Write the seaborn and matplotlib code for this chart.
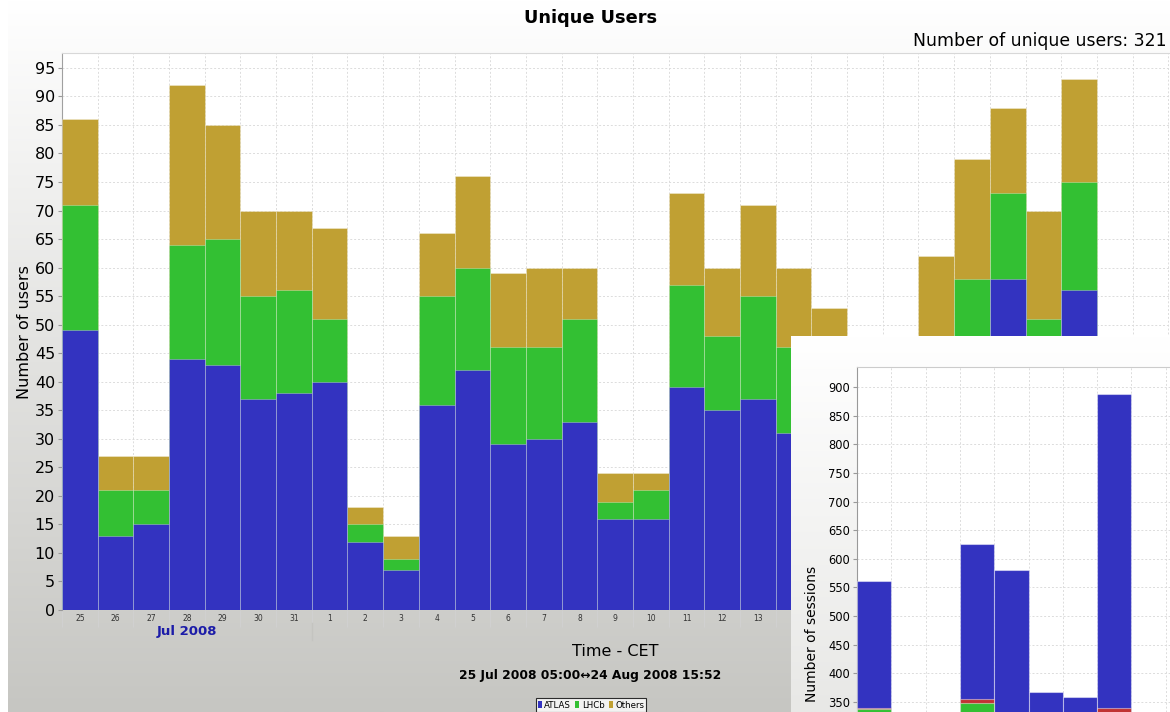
import numpy as np
import pandas as pd
import matplotlib
matplotlib.use("Agg")
import matplotlib.pyplot as plt
import seaborn as sns
from matplotlib.patches import Patch
from matplotlib.transforms import blended_transform_factory

# ---------------- data ----------------
days = ["25", "26", "27", "28", "29", "30", "31",
        "1", "2", "3", "4", "5", "6", "7", "8", "9", "10", "11", "12",
        "13", "14", "15", "16", "17", "18", "19", "20", "21", "22", "23", "24"]
atlas = [49, 13, 15, 44, 43, 37, 38, 40, 12, 7, 36, 42, 29, 30, 33, 16,
         16, 39, 35, 37, 31, 28, 12, 10, 28, 40, 58, 36, 56, 14, 12]
lhcb = [22, 8, 6, 20, 22, 18, 18, 11, 3, 2, 19, 18, 17, 16, 18, 3,
        5, 18, 13, 18, 15, 13, 4, 3, 16, 18, 15, 15, 19, 3, 4]
others = [15, 6, 6, 28, 20, 15, 14, 16, 3, 4, 11, 16, 13, 14, 9, 5,
          3, 16, 12, 16, 14, 12, 5, 6, 18, 21, 15, 19, 18, 5, 4]
yticks_main = list(range(0, 100, 5))

# inset (Number of sessions), partly visible
sess_slots = ["a", "b", "c", "d", "e", "f", "g", "h"]
sess_others = [120, 0, 0, 130, 120, 80, 70, 140]
sess_lhcb = [218, 0, 0, 218, 200, 200, 200, 190]
sess_red = [2, 0, 0, 7, 4, 3, 3, 9]
sess_atlas = [222, 0, 0, 271, 256, 84, 85, 549]
yticks_inset = list(range(350, 901, 50))

C_ATLAS = "#3333c0"
C_LHCB = "#33c033"
C_OTH = "#c0a033"
C_RED = "#c03333"

plt.rcParams["font.family"] = ["DejaVu Sans"]

W, H = 1170, 712
fig = plt.figure(figsize=(W / 100, H / 100), dpi=100)
fig.patch.set_facecolor("white")

def fx(px):
    return px / W

def fy(py):
    return 1 - py / H

# ---------------- background gradient ----------------
bg = fig.add_axes([fx(8), 0, 1 - fx(8), 1], zorder=-10)
grad = np.linspace(1.0, 0.0, 256).reshape(-1, 1)
top_c = np.array([1.0, 1.0, 1.0])
bot_c = np.array([198, 198, 194]) / 255
img = top_c * grad[..., None] + bot_c * (1 - grad[..., None])
bg.imshow(img, aspect="auto", extent=[0, 1, 0, 1], origin="upper")
bg.set_axis_off()

# ---------------- main axes ----------------
MAIN_L, MAIN_R = 62, 1204
PANEL_L = 791
ax = fig.add_axes([fx(MAIN_L), fy(610), fx(MAIN_R - MAIN_L), fy(53) - fy(610)], zorder=1)
ax.set_facecolor("white")

df = pd.DataFrame({"day": days, "atlas": atlas, "lhcb": lhcb, "others": others})
df["c_lhcb"] = df["atlas"] + df["lhcb"]
df["c_oth"] = df["c_lhcb"] + df["others"]

bar_kw = dict(width=1.0, saturation=1, errorbar=None, linewidth=0.6,
              edgecolor=(1, 1, 1, 0.35), order=days, ax=ax, zorder=3)
sns.barplot(data=df, x="day", y="c_oth", color=C_OTH, **bar_kw)
sns.barplot(data=df, x="day", y="c_lhcb", color=C_LHCB, **bar_kw)
sns.barplot(data=df, x="day", y="atlas", color=C_ATLAS, **bar_kw)

n = len(days)
ax.set_xlim(-0.5, 31.5)
ax.set_ylim(0, 97.6)
ax.set_yticks(yticks_main)
ax.set_yticklabels([str(v) for v in yticks_main], fontsize=11.5)
ax.tick_params(axis="y", length=3, color="#999999", pad=2)
ax.set_xticks(range(n))
# day labels lying under the overlapping sessions panel are covered there
slot_px = (MAIN_R - MAIN_L) / 32.0
shown = [d if MAIN_L + (i + 0.5) * slot_px < PANEL_L else "" for i, d in enumerate(days)]
ax.set_xticklabels(shown, fontsize=5.5, color="#333333")
ax.tick_params(axis="x", which="major", length=0, pad=3)
ax.set_xticks([i - 0.5 for i in range(n + 1)], minor=True)
ax.tick_params(axis="x", which="minor", length=12, color="#d0d0d0", width=0.8)
ax.set_xlabel("")
ax.set_ylabel("")
ax.grid(True, which="major", axis="y", color="#dcdcdc", linestyle=(0, (2, 2)), linewidth=0.7)
ax.grid(True, which="minor", axis="x", color="#dcdcdc", linestyle=(0, (2, 2)), linewidth=0.7)
ax.set_axisbelow(True)
for s in ["right", "bottom"]:
    ax.spines[s].set_visible(False)
ax.spines["left"].set_color("#a0a0a0")
ax.spines["top"].set_color("#d8d8d8")

# month label and separator
tr = blended_transform_factory(ax.transData, fig.transFigure)
ax.text(3, fy(632), "Jul 2008", transform=tr, ha="center", va="center",
        fontsize=9.5, fontweight="bold", color="#1c1ca8")
ax.plot([6.5, 6.5], [fy(623), fy(640)], transform=tr, color="#c4c4c0",
        linewidth=1, clip_on=False)

# texts
fig.text(fx(591), fy(18), "Unique Users", ha="center", va="center",
         fontsize=12.8, fontweight="bold")
fig.text(fx(1167), fy(41), "Number of unique users: 321", ha="right", va="center",
         fontsize=12.4)
fig.text(fx(25), fy(332), "Number of users", ha="center", va="center",
         rotation=90, fontsize=11.5)
fig.text(fx(615), fy(651), "Time - CET", ha="center", va="center", fontsize=11.5)
fig.text(fx(590), fy(675), "25 Jul 2008 05:00\u219424 Aug 2008 15:52",
         ha="center", va="center", fontsize=8.8, fontweight="bold")

handles = [Patch(facecolor=C_ATLAS, edgecolor="none", label="ATLAS"),
           Patch(facecolor=C_LHCB, edgecolor="none", label="LHCb"),
           Patch(facecolor=C_OTH, edgecolor="none", label="Others")]
leg = fig.legend(handles=handles, loc="center", bbox_to_anchor=(fx(591), fy(705)),
                 ncol=3, fontsize=6.2, frameon=True, fancybox=False,
                 handlelength=0.45, handleheight=1.0, handletextpad=0.3,
                 columnspacing=0.5, borderpad=0.25, borderaxespad=0)
leg.get_frame().set_edgecolor("black")
leg.get_frame().set_linewidth(0.8)

# ---------------- inset panel ----------------
panel = fig.add_axes([fx(PANEL_L), 0, 1 - fx(PANEL_L), fy(336)], zorder=5)
pgrad = np.linspace(1.0, 0.0, 256).reshape(-1, 1)
pimg = np.array([1.0, 1.0, 1.0]) * pgrad[..., None] + \
    (np.array([232, 232, 230]) / 255) * (1 - pgrad[..., None])
panel.imshow(pimg, aspect="auto", extent=[0, 1, 0, 1], origin="upper")
panel.set_axis_off()

ins = fig.add_axes([fx(857), 0, fx(1200 - 857), fy(367)], zorder=6)
ins.set_facecolor("white")
sdf = pd.DataFrame({"slot": sess_slots, "oth": sess_others, "lhcb": sess_lhcb,
                    "red": sess_red, "atlas": sess_atlas})
sdf["c1"] = sdf["oth"]
sdf["c2"] = sdf["c1"] + sdf["lhcb"]
sdf["c3"] = sdf["c2"] + sdf["red"]
sdf["c4"] = sdf["c3"] + sdf["atlas"]
ikw = dict(width=1.0, saturation=1, errorbar=None, linewidth=0.8,
           edgecolor=(1, 1, 1, 0.45), order=sess_slots, ax=ins, zorder=3)
sns.barplot(data=sdf, x="slot", y="c4", color=C_ATLAS, **ikw)
sns.barplot(data=sdf, x="slot", y="c3", color=C_RED, **ikw)
sns.barplot(data=sdf, x="slot", y="c2", color=C_LHCB, **ikw)
sns.barplot(data=sdf, x="slot", y="c1", color=C_OTH, **ikw)
ins.set_xlim(-0.5, (1200 - 857) / 34.6 - 0.5)
ins.set_ylim(332.5, 935)
ins.set_yticks(yticks_inset)
ins.set_yticklabels([str(v) for v in yticks_inset], fontsize=8.3)
ins.tick_params(axis="y", length=3, color="#999999", pad=2)
ins.set_xticks([])
ins.set_xticks([i + 0.5 for i in range(10)], minor=True)
ins.tick_params(axis="x", which="minor", length=0)
ins.set_xlabel("")
ins.set_ylabel("")
ins.grid(True, which="major", axis="y", color="#dcdcdc", linestyle=(0, (2, 2)), linewidth=0.7)
ins.grid(True, which="minor", axis="x", color="#dcdcdc", linestyle=(0, (2, 2)), linewidth=0.7)
ins.set_axisbelow(True)
ins.spines["right"].set_visible(False)
ins.spines["bottom"].set_visible(False)
ins.spines["left"].set_color("#999999")
ins.spines["top"].set_color("#cccccc")
fig.text(fx(812), fy(634), "Number of sessions", ha="center", va="center",
         rotation=90, fontsize=10, zorder=7)

fig.savefig("out.png", dpi=100)
